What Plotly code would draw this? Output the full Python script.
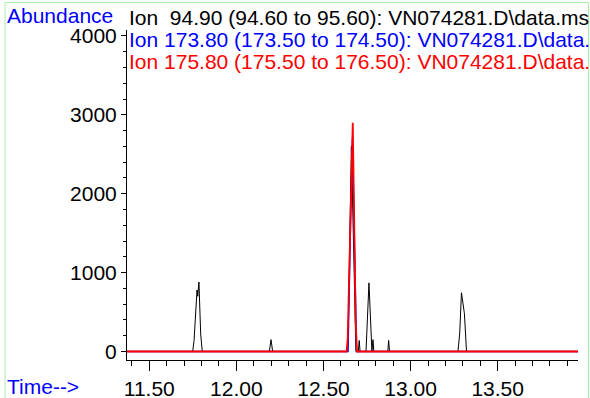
import plotly.graph_objects as go

# ---- data ----
black_t = [11.372, 11.749, 11.757, 11.768, 11.774, 11.778, 11.785, 11.791, 11.795, 11.804,
           12.189, 12.199, 12.208,
           12.634, 12.641, 12.660, 12.674, 12.686, 12.700, 12.705, 12.710,
           12.744, 12.761, 12.778, 12.784, 12.789,
           12.869, 12.874, 12.879,
           13.272, 13.282, 13.292, 13.309, 13.321, 13.961]
black_v = [0, 0, 140, 620, 780, 700, 880, 480, 220, 0,
           0, 150, 0,
           0, 170, 2600, 1150, 0, 0, 140, 0,
           0, 870, 0, 150, 0,
           0, 140, 0,
           0, 235, 745, 480, 0, 0]

blue_t = [11.372, 12.641, 12.655, 12.666, 12.679, 12.690, 13.961]
blue_v = [0, 0, 1600, 2700, 1240, 0, 0]

red_t = [11.372, 12.633, 12.639, 12.668, 12.676, 12.684, 12.692, 13.961]
red_v = [0, 0, 170, 2900, 1700, 430, 0, 0]

labels = [
    "Ion\u00a0\u00a094.90 (94.60 to 95.60): VN074281.D\\data.ms",
    "Ion 173.80 (173.50 to 174.50): VN074281.D\\data.ms",
    "Ion 175.80 (175.50 to 176.50): VN074281.D\\data.ms",
]
label_colors = ["#000000", "#0000ff", "#ff0000"]

FONT = "Arial, Liberation Sans, sans-serif"
FS = 21

fig = go.Figure()
fig.add_trace(go.Scatter(x=black_t, y=black_v, mode="lines",
                         line=dict(color="#000000", width=1), showlegend=False))
fig.add_trace(go.Scatter(x=blue_t, y=blue_v, mode="lines",
                         line=dict(color="#0000ff", width=1.4), showlegend=False))
fig.add_trace(go.Scatter(x=red_t, y=red_v, mode="lines",
                         line=dict(color="#ff0000", width=1.8), showlegend=False))

W, H = 590, 398
L, R, T, B = 127, 12, 30, 38
pw, ph = W - L - R, H - T - B

def px(x):
    return (x - L) / pw

def py(y):
    return (H - B - y) / ph

annotations = []
for i, (txt, col) in enumerate(zip(labels, label_colors)):
    annotations.append(dict(text=txt, xref="paper", yref="paper", x=px(127), y=py(17 + 22.5 * i),
                            xanchor="left", yanchor="middle", showarrow=False,
                            font=dict(family=FONT, size=FS, color=col)))
annotations.append(dict(text="Abundance", xref="paper", yref="paper", x=px(5), y=py(16),
                        xanchor="left", yanchor="middle", showarrow=False,
                        font=dict(family=FONT, size=FS, color="#0000ff")))
annotations.append(dict(text="Time-->", xref="paper", yref="paper", x=px(5), y=py(386),
                        xanchor="left", yanchor="middle", showarrow=False,
                        font=dict(family=FONT, size=FS, color="#0000ff")))

fig.update_layout(
    width=W, height=H,
    margin=dict(l=L, r=R, t=T, b=B, pad=0, autoexpand=False),
    paper_bgcolor="white", plot_bgcolor="white",
    font=dict(family=FONT, size=FS, color="black"),
    annotations=annotations,
    shapes=[dict(type="rect", xref="paper", yref="paper",
                 x0=px(5), x1=px(588.5), y0=py(400), y1=py(2.5),
                 line=dict(color="#a8f0a8", width=1), layer="below")],
    xaxis=dict(range=[11.372, 13.961], showgrid=False, zeroline=False, automargin=False,
               showline=True, linecolor="black", linewidth=1,
               tick0=11.5, dtick=0.5, tickformat=".2f",
               ticks="outside", ticklen=10, tickcolor="black", tickwidth=1,
               minor=dict(dtick=0.1, tick0=11.5, ticks="outside", ticklen=5,
                          tickcolor="black", tickwidth=1, showgrid=False),
               tickfont=dict(family=FONT, size=FS, color="black")),
    yaxis=dict(range=[-108, 4076], showgrid=False, zeroline=False, automargin=False,
               showline=True, linecolor="black", linewidth=1,
               tick0=0, dtick=1000,
               ticks="outside", ticklen=5, tickcolor="black", tickwidth=1,
               minor=dict(dtick=200, tick0=0, ticks="outside", ticklen=3,
                          tickcolor="black", tickwidth=1, showgrid=False),
               tickfont=dict(family=FONT, size=FS, color="black")),
)

fig.write_html("out.html", config={"displayModeBar": False},
               post_script="document.body.style.margin='0';document.body.style.overflow='hidden';")
